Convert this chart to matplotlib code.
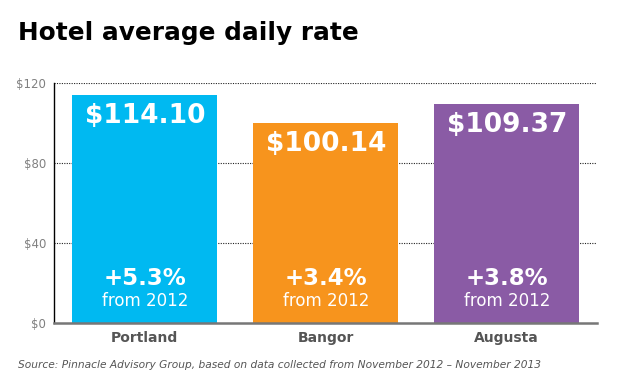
import matplotlib.pyplot as plt

plt.rcParams['font.family'] = ['Verdana', 'DejaVu Sans']

cities = ['Portland', 'Bangor', 'Augusta']
rates = [114.10, 100.14, 109.37]
changes = [5.3, 3.4, 3.8]
colors = ['#00B9F1', '#F7941D', '#8A5BA5']
yticks = [0, 40, 80, 120]

fig = plt.figure(figsize=(6.24, 3.9), dpi=100)
ax = fig.add_axes([0.087, 0.172, 0.870, 0.615])

x = range(len(cities))
bars = ax.bar(x, rates, width=0.8, color=colors, zorder=2)

for i, (bar, rate, chg) in enumerate(zip(bars, rates, changes)):
    ax.text(i, rate - 4, f'${rate:.2f}', ha='center', va='top',
            color='white', fontsize=19, fontweight='bold', zorder=3)
    ax.text(i, 16.5, f'+{chg:.1f}%', ha='center', va='bottom',
            color='white', fontsize=16.5, fontweight='bold', zorder=3)
    ax.text(i, 6.5, 'from 2012', ha='center', va='bottom',
            color='white', fontsize=12, zorder=3)

ax.set_xlim(-0.5, 2.5)
ax.set_ylim(0, 120)
ax.set_yticks(yticks)
ax.set_yticklabels([f'${v}' for v in yticks])
ax.set_xticks(list(x))
ax.set_xticklabels(cities, fontweight='bold')
ax.tick_params(axis='y', length=0, labelsize=8.5, labelcolor='#808080', pad=6)
ax.tick_params(axis='x', length=0, labelsize=10, labelcolor='#555555', pad=6)

for v in yticks[1:]:
    ax.axhline(v, color='#222222', linestyle=(0, (1, 1.2)), linewidth=0.8, zorder=1)

for s in ['top', 'right']:
    ax.spines[s].set_visible(False)
ax.spines['left'].set_color('black')
ax.spines['left'].set_linewidth(1.0)
ax.spines['bottom'].set_color('#777777')
ax.spines['bottom'].set_linewidth(1.8)
ax.spines['bottom'].set_zorder(4)

fig.text(0.029, 0.915, 'Hotel average daily rate', fontsize=17.8,
         fontweight='bold', color='black', va='center')
fig.text(0.029, 0.063,
         'Source: Pinnacle Advisory Group, based on data collected from November 2012 \u2013 November 2013',
         fontsize=7.7, style='italic', color='#555555', va='center')

fig.savefig('out.png', dpi=100)
